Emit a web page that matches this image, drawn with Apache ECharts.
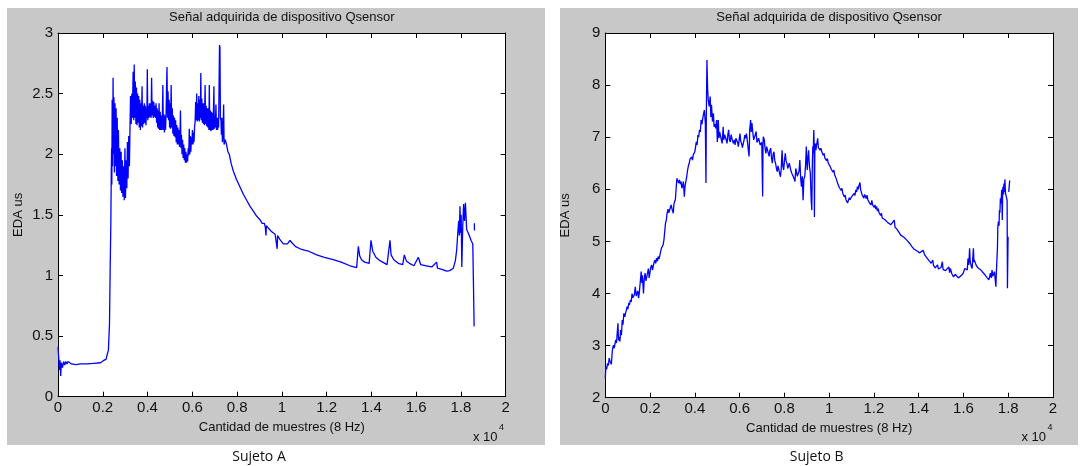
<!DOCTYPE html>
<html>
<head>
<meta charset="utf-8">
<script src="https://cdn.jsdelivr.net/npm/echarts@6/dist/echarts.min.js"></script>
<style>
  html, body { margin: 0; padding: 0; background: #fff; }
  #chart { width: 1080px; height: 466px; }
</style>
</head>
<body>
<div id="chart"></div>
<script>
// muestras (eje x, en muestras) y EDA en microsiemens
const sujetoA = [
  [0,0.41],[30,0.33],[60,0.22],[90,0.30],[120,0.17],[150,0.28],[200,0.24],[250,0.29],[300,0.26],[350,0.29],
  [400,0.27],[450,0.29],[500,0.28],[600,0.27],[800,0.265],[1000,0.27],[1300,0.27],[1600,0.275],[1900,0.28],
  [2050,0.30],[2150,0.31],[2200,0.35],[2250,0.38],[2300,0.6],[2330,1.05],[2360,1.42],[2380,1.85],[2395,2.05],[2405,1.75],
  [2420,2.45],[2440,1.9],[2460,2.63],[2480,2.0],[2500,2.47],[2520,1.85],[2545,2.42],[2570,1.9],[2595,2.38],[2615,1.82],
  [2645,2.3],[2675,1.78],[2700,2.2],[2730,1.75],[2760,2.05],[2790,1.7],[2820,2.02],[2845,1.68],[2875,1.95],[2900,1.65],
  [2930,1.9],[2960,1.62],[2990,2.05],[3015,1.64],[3045,1.95],[3075,1.72],[3100,2.1],[3130,1.8],[3160,2.15],[3190,1.9],
  [3215,2.2],[3240,2.48],[3270,2.25],[3300,2.5],[3325,2.3],[3355,2.68],[3385,2.28],[3405,2.74],[3430,2.3],[3455,2.6],
  [3480,2.25],[3505,2.55],[3530,2.24],[3555,2.5],[3580,2.26],[3605,2.48],[3630,2.22],[3655,2.45],[3680,2.2],[3705,2.42],
  [3730,2.23],[3755,2.56],[3780,2.22],[3805,2.4],[3830,2.25],[3855,2.42],[3880,2.26],[3905,2.4],[3930,2.24],[3950,2.38],
  [3970,2.3],[3990,2.70],[4010,2.28],[4035,2.4],[4060,2.3],[4085,2.42],[4110,2.31],[4135,2.42],[4160,2.3],[4182,2.63],
  [4205,2.32],[4230,2.44],[4255,2.3],[4280,2.43],[4305,2.31],[4330,2.4],[4355,2.3],[4380,2.42],[4405,2.26],[4430,2.38],
  [4450,2.22],[4475,2.36],[4495,2.21],[4515,2.42],[4540,2.2],[4565,2.35],[4590,2.2],[4615,2.32],[4640,2.2],[4665,2.34],
  [4685,2.57],[4705,2.2],[4730,2.33],[4755,2.18],[4780,2.32],[4805,2.2],[4830,2.35],[4850,2.55],[4870,2.72],[4890,2.3],
  [4915,2.52],[4940,2.28],[4965,2.45],[4985,2.22],[5005,2.42],[5030,2.21],[5055,2.57],[5080,2.22],[5105,2.38],[5130,2.17],
  [5155,2.32],[5180,2.15],[5205,2.3],[5230,2.14],[5255,2.28],[5280,2.1],[5305,2.24],[5330,2.08],[5355,2.22],[5380,2.08],
  [5405,2.2],[5430,2.06],[5455,2.2],[5470,2.36],[5495,2.05],[5515,2.16],[5540,2.0],[5565,2.12],[5590,1.97],[5615,2.08],
  [5640,1.95],[5665,2.05],[5690,1.93],[5715,2.02],[5740,1.93],[5765,2.0],[5790,1.94],[5815,2.05],[5840,1.99],[5865,2.21],
  [5890,2.0],[5910,2.15],[5935,2.02],[5960,2.14],[5980,2.08],[6005,2.2],[6030,2.08],[6050,2.18],[6075,2.1],[6100,2.22],
  [6125,2.27],[6150,2.43],[6175,2.28],[6195,2.5],[6220,2.27],[6245,2.42],[6265,2.28],[6290,2.48],[6315,2.27],[6340,2.45],
  [6360,2.3],[6380,2.67],[6400,2.28],[6425,2.46],[6450,2.26],[6475,2.42],[6500,2.25],[6520,2.42],[6545,2.24],[6570,2.57],
  [6595,2.25],[6620,2.4],[6645,2.23],[6670,2.38],[6695,2.22],[6720,2.38],[6740,2.2],[6760,2.57],[6780,2.2],[6805,2.36],
  [6830,2.19],[6855,2.35],[6880,2.2],[6900,2.34],[6925,2.2],[6945,2.36],[6965,2.56],[6985,2.21],[7010,2.32],[7030,2.22],
  [7055,2.41],[7080,2.2],[7105,2.3],[7130,2.2],[7150,2.3],[7175,2.22],[7195,2.55],[7215,2.9],[7235,2.88],[7255,2.3],
  [7280,2.28],[7300,2.16],[7320,2.3],[7345,2.1],[7370,2.16],[7400,2.41],[7420,2.08],[7470,2.12],[7530,2.08],[7590,2.02],
  [7650,2.0],[7740,1.92],[7833,1.86],[7980,1.79],[8130,1.73],[8280,1.67],[8428,1.62],[8580,1.57],[8726,1.53],[8870,1.49],
  [9023,1.46],[9120,1.43],[9172,1.42],[9220,1.43],[9260,1.40],[9291,1.33],[9310,1.41],[9400,1.39],[9550,1.36],[9700,1.34],
  [9768,1.33],[9790,1.22],[9810,1.33],[9900,1.30],[10066,1.26],[10250,1.26],[10363,1.29],[10450,1.27],[10600,1.24],
  [10810,1.22],[11000,1.21],[11200,1.20],[11556,1.17],[11900,1.15],[12297,1.13],[12650,1.11],[13044,1.08],[13342,1.065],
  [13400,1.07],[13416,1.24],[13480,1.16],[13560,1.13],[13700,1.11],[13900,1.10],[13982,1.29],[14060,1.20],[14200,1.15],
  [14400,1.12],[14600,1.10],[14700,1.09],[14830,1.29],[14880,1.17],[15000,1.13],[15200,1.10],[15400,1.09],[15470,1.17],
  [15560,1.12],[15700,1.10],[15900,1.08],[16096,1.15],[16200,1.09],[16450,1.08],[16700,1.07],[16766,1.06],[16915,1.11],
  [16950,1.06],[17150,1.05],[17362,1.035],[17500,1.04],[17660,1.06],[17750,1.12],[17810,1.21],[17860,1.35],[17900,1.45],
  [17930,1.33],[17957,1.57],[17990,1.35],[18010,1.50],[18040,1.07],[18080,1.40],[18120,1.59],[18160,1.45],[18200,1.60],
  [18256,1.38],[18350,1.34],[18450,1.29],[18530,1.26],[18560,1.25],[18590,0.58],[18595,null],[18600,1.43],[18605,1.37]
];

const sujetoB = [
  [0,2.37],[26,2.60],[60,2.55],[99,2.66],[140,2.62],[172,2.76],[210,2.70],[245,2.72],[270,2.64],[318,2.92],[362,3.01],
  [400,2.95],[464,3.11],[500,3.05],[537,3.27],[566,3.43],[590,3.10],[610,3.17],[654,3.08],[683,3.30],[720,3.20],[756,3.49],
  [790,3.40],[829,3.62],[870,3.55],[902,3.62],[940,3.68],[975,3.75],[1010,3.70],[1048,3.82],[1080,3.78],[1121,3.88],
  [1160,3.84],[1194,4.0],[1230,3.92],[1267,3.94],[1300,3.98],[1340,4.13],[1380,3.95],[1413,3.94],[1450,4.05],[1486,3.91],
  [1520,4.02],[1559,4.0],[1603,4.42],[1632,4.20],[1660,4.35],[1705,4.0],[1740,4.28],[1778,4.39],[1815,4.24],[1851,4.26],
  [1890,4.40],[1924,4.48],[1960,4.30],[1997,4.32],[2030,4.50],[2070,4.55],[2110,4.45],[2143,4.52],[2180,4.60],[2216,4.64],
  [2250,4.58],[2289,4.68],[2330,4.62],[2362,4.71],[2400,4.66],[2435,4.68],[2470,4.80],[2508,4.87],[2545,4.85],[2581,4.93],
  [2620,5.03],[2654,5.19],[2690,5.35],[2727,5.41],[2760,5.54],[2800,5.62],[2840,5.55],[2873,5.57],[2910,5.66],[2946,5.70],
  [2980,5.62],[3019,5.64],[3040,5.54],[3060,5.70],[3092,5.76],[3130,5.80],[3165,6.02],[3200,6.21],[3238,6.24],[3275,6.12],
  [3311,6.18],[3350,6.10],[3384,6.15],[3420,6.02],[3457,6.08],[3490,6.15],[3530,5.86],[3560,6.05],[3603,6.05],[3640,6.25],
  [3676,6.37],[3712,6.45],[3749,6.50],[3785,6.58],[3822,6.56],[3860,6.62],[3895,6.56],[3930,6.66],[3968,6.66],[4000,6.72],
  [4041,6.75],[4064,6.91],[4100,6.85],[4137,7.04],[4170,7.00],[4209,7.14],[4245,7.10],[4281,7.33],[4320,7.25],[4353,7.36],
  [4397,7.46],[4426,7.52],[4469,7.27],[4498,6.12],[4512,7.39],[4541,8.48],[4570,7.94],[4599,7.71],[4643,7.59],[4686,7.78],
  [4715,7.39],[4744,7.62],[4787,7.30],[4831,7.46],[4860,7.20],[4900,7.25],[4932,7.17],[4975,7.33],[5004,6.91],[5047,7.33],
  [5076,6.98],[5110,7.10],[5149,7.07],[5185,6.95],[5221,6.88],[5264,7.20],[5293,6.95],[5330,7.05],[5366,7.07],[5400,6.95],
  [5438,6.88],[5475,7.05],[5510,7.14],[5545,6.95],[5583,6.91],[5620,7.05],[5655,7.07],[5690,6.92],[5727,6.88],[5765,6.95],
  [5799,6.85],[5835,6.98],[5872,7.01],[5910,6.90],[5944,6.82],[5980,6.95],[6016,7.07],[6050,6.92],[6089,6.88],[6125,6.80],
  [6161,6.79],[6200,6.95],[6233,7.04],[6270,6.98],[6306,7.07],[6340,6.95],[6378,6.98],[6400,6.92],[6421,6.63],[6440,6.90],
  [6450,7.14],[6493,7.33],[6520,7.10],[6551,7.27],[6595,7.07],[6630,6.95],[6667,6.98],[6700,7.05],[6739,7.11],[6775,6.90],
  [6812,6.88],[6850,6.98],[6884,6.95],[6920,6.85],[6956,6.82],[6990,6.90],[7029,5.86],[7045,6.85],[7057,7.01],[7101,6.95],
  [7135,6.80],[7173,6.69],[7210,6.82],[7245,6.85],[7280,6.70],[7318,6.63],[7355,6.75],[7390,6.79],[7425,6.60],[7462,6.50],
  [7500,6.68],[7535,6.72],[7570,6.55],[7607,6.50],[7645,6.40],[7679,6.34],[7715,6.45],[7752,6.47],[7790,6.30],[7824,6.24],
  [7860,6.40],[7896,6.75],[7930,6.45],[7968,6.37],[8005,6.55],[8041,6.69],[8075,6.55],[8113,6.50],[8150,6.40],[8185,6.37],
  [8220,6.50],[8257,6.47],[8295,6.35],[8330,6.31],[8365,6.30],[8402,6.24],[8440,6.20],[8474,6.15],[8510,6.40],[8547,6.37],
  [8580,6.25],[8619,6.24],[8655,6.35],[8691,6.56],[8730,6.20],[8764,6.05],[8800,6.25],[8836,5.79],[8870,6.20],[8908,6.24],
  [8945,6.45],[8980,6.82],[9000,6.55],[9024,6.37],[9050,6.60],[9082,6.75],[9105,6.55],[9125,6.43],[9160,6.30],[9198,5.79],
  [9226,5.60],[9250,6.50],[9270,6.82],[9290,6.70],[9313,7.14],[9330,6.85],[9342,5.47],[9360,6.75],[9385,6.88],[9410,6.75],
  [9429,6.82],[9460,6.90],[9487,6.98],[9520,6.80],[9559,6.82],[9595,6.75],[9631,6.79],[9670,6.72],[9704,6.75],[9740,6.65],
  [9776,6.69],[9810,6.60],[9848,6.63],[9885,6.55],[9921,6.59],[9960,6.50],[9993,6.53],[10030,6.45],[10065,6.47],[10100,6.38],
  [10138,6.40],[10175,6.33],[10210,6.37],[10245,6.28],[10282,6.28],[10320,6.20],[10354,6.18],[10390,6.10],[10427,6.11],
  [10460,6.03],[10499,6.05],[10535,5.98],[10571,6.02],[10610,5.92],[10643,5.95],[10680,5.85],[10716,5.89],[10750,5.80],
  [10788,5.79],[10825,5.74],[10860,5.76],[10900,5.84],[10933,5.80],[10970,5.79],[11005,5.86],[11048,5.89],[11080,5.84],
  [11119,5.92],[11150,5.88],[11191,5.99],[11230,5.95],[11262,6.05],[11300,6.00],[11334,6.08],[11377,6.13],[11406,5.99],
  [11440,6.02],[11477,5.89],[11510,5.92],[11549,5.83],[11585,5.90],[11620,5.86],[11660,5.82],[11692,5.89],[11730,5.80],
  [11764,5.83],[11800,5.74],[11835,5.76],[11870,5.70],[11907,5.79],[11940,5.70],[11978,5.73],[12010,5.65],[12050,5.70],
  [12085,5.62],[12122,5.67],[12160,5.58],[12193,5.63],[12230,5.55],[12265,5.57],[12300,5.50],[12336,5.54],[12370,5.45],
  [12408,5.47],[12480,5.42],[12551,5.44],[12620,5.36],[12694,5.38],[12760,5.32],[12838,5.35],[12909,5.41],[12940,5.28],
  [12981,5.25],[13050,5.22],[13124,5.19],[13200,5.12],[13267,5.09],[13340,5.08],[13410,5.06],[13480,5.02],[13554,5.0],
  [13620,4.95],[13697,4.90],[13770,4.86],[13840,4.83],[13910,4.82],[13983,4.80],[14050,4.78],[14126,4.80],[14198,4.83],
  [14270,4.74],[14340,4.70],[14413,4.67],[14480,4.62],[14556,4.58],[14628,4.64],[14660,4.54],[14699,4.55],[14740,4.49],
  [14771,4.51],[14842,4.55],[14880,4.47],[14914,4.48],[15000,4.50],[15057,4.61],[15090,4.46],[15129,4.48],[15200,4.44],
  [15272,4.42],[15344,4.51],[15380,4.40],[15415,4.48],[15480,4.38],[15558,4.32],[15630,4.37],[15701,4.35],[15770,4.30],
  [15845,4.29],[15916,4.35],[15988,4.39],[16059,4.48],[16131,4.51],[16170,4.45],[16202,4.67],[16240,4.55],[16274,4.87],
  [16300,4.62],[16317,4.58],[16350,4.52],[16388,4.48],[16445,4.87],[16470,4.60],[16489,4.64],[16560,4.55],[16630,4.50],
  [16704,4.48],[16780,4.45],[16847,4.42],[16920,4.38],[16990,4.35],[17060,4.30],[17133,4.26],[17205,4.39],[17240,4.30],
  [17277,4.45],[17310,4.33],[17348,4.32],[17385,4.42],[17420,4.39],[17449,4.13],[17470,4.40],[17492,4.39],[17520,4.90],
  [17535,5.28],[17563,5.38],[17590,5.30],[17606,5.60],[17630,5.55],[17649,5.83],[17678,5.73],[17707,5.99],[17735,5.41],
  [17750,5.95],[17764,6.05],[17790,5.90],[17807,6.11],[17830,5.95],[17850,6.19],[17879,5.92],[17922,5.89],[17950,5.79],
  [17965,4.10],[17993,5.09],[18000,null],[18022,5.95],[18065,6.17]
];

const xTicks = [0, 20000, 2000];   // min, max, intervalo (muestras)
const yTicksA = [0, 3, 0.5];
const yTicksB = [2, 9, 1];

const titulo = 'Señal adquirida de dispositivo Qsensor';
const nombreX = 'Cantidad de muestres (8 Hz)';
const nombreY = 'EDA us';
const pies = ['Sujeto A', 'Sujeto B'];

const FONT = '"Liberation Sans", Arial, sans-serif';
const grids = [
  { left: 58, top: 33, width: 447.7, height: 363.7 },
  { left: 605.3, top: 33, width: 447.7, height: 364.7 }
];

function ejeX(gi, top) {
  return {
    type: 'value', gridIndex: gi, position: top ? 'top' : 'bottom',
    min: xTicks[0], max: xTicks[1], interval: xTicks[2],
    name: top ? '' : nombreX, nameLocation: 'middle', nameGap: 22,
    nameTextStyle: { fontFamily: FONT, fontSize: 13, color: '#111' },
    axisLine: { show: true, onZero: false, lineStyle: { color: '#000', width: 1 } },
    axisTick: { show: true, inside: true, length: 5, lineStyle: { color: '#000' } },
    axisLabel: { show: !top, margin: 4, fontFamily: FONT, fontSize: 15, color: '#111',
      formatter: v => String(+(v / 10000).toFixed(1)) },
    splitLine: { show: false }
  };
}
function ejeY(gi, t, right) {
  return {
    type: 'value', gridIndex: gi, position: right ? 'right' : 'left',
    min: t[0], max: t[1], interval: t[2],
    name: right ? '' : nombreY, nameLocation: 'middle', nameGap: 33, nameRotate: 90,
    nameTextStyle: { fontFamily: FONT, fontSize: 13, color: '#111' },
    axisLine: { show: true, onZero: false, lineStyle: { color: '#000', width: 1 } },
    axisTick: { show: true, inside: true, length: 5, lineStyle: { color: '#000' } },
    axisLabel: { show: !right, margin: 5, fontFamily: FONT, fontSize: 15, color: '#111' },
    splitLine: { show: false }
  };
}

function texto(x, y, s, size, align, font) {
  return { type: 'text', x: x, y: y, z: 10,
    style: { text: s, fill: '#111', font: size + 'px ' + (font || FONT),
      textAlign: align || 'center', textVerticalAlign: 'middle', align: align || 'center', verticalAlign: 'middle' } };
}

const chart = echarts.init(document.getElementById('chart'), null, { renderer: 'canvas' });
chart.setOption({
  animation: false,
  backgroundColor: '#fff',
  grid: grids.map(g => Object.assign({ show: true, backgroundColor: '#fff', borderWidth: 0 }, g)),
  xAxis: [ejeX(0, false), ejeX(0, true), ejeX(1, false), ejeX(1, true)],
  yAxis: [ejeY(0, yTicksA, false), ejeY(0, yTicksA, true), ejeY(1, yTicksB, false), ejeY(1, yTicksB, true)],
  graphic: { elements: [
    { type: 'rect', z: -100, shape: { x: 7, y: 8, width: 538, height: 437 }, style: { fill: '#c8c8c8' } },
    { type: 'rect', z: -100, shape: { x: 560, y: 8, width: 518, height: 437 }, style: { fill: '#c8c8c8' } },
    texto(281.8, 17, titulo, 13),
    texto(829.1, 17, titulo, 13),
    texto(473, 437, 'x 10', 13, 'left'),
    texto(499, 428, '4', 9, 'left'),
    texto(1021.5, 437, 'x 10', 13, 'left'),
    texto(1047.5, 428, '4', 9, 'left'),
    texto(259, 457, pies[0], 14, 'center', '"Open Sans", "Noto Sans", sans-serif'),
    texto(816.7, 457, pies[1], 14, 'center', '"Open Sans", "Noto Sans", sans-serif')
  ] },
  series: [
    { type: 'line', xAxisIndex: 0, yAxisIndex: 0, data: sujetoA, showSymbol: false, symbol: 'none',
      connectNulls: false, sampling: null, lineStyle: { color: '#0000ff', width: 1.3 } },
    { type: 'line', xAxisIndex: 2, yAxisIndex: 2, data: sujetoB, showSymbol: false, symbol: 'none',
      connectNulls: false, sampling: null, lineStyle: { color: '#0000ff', width: 1.3 } }
  ]
});
</script>
</body>
</html>
